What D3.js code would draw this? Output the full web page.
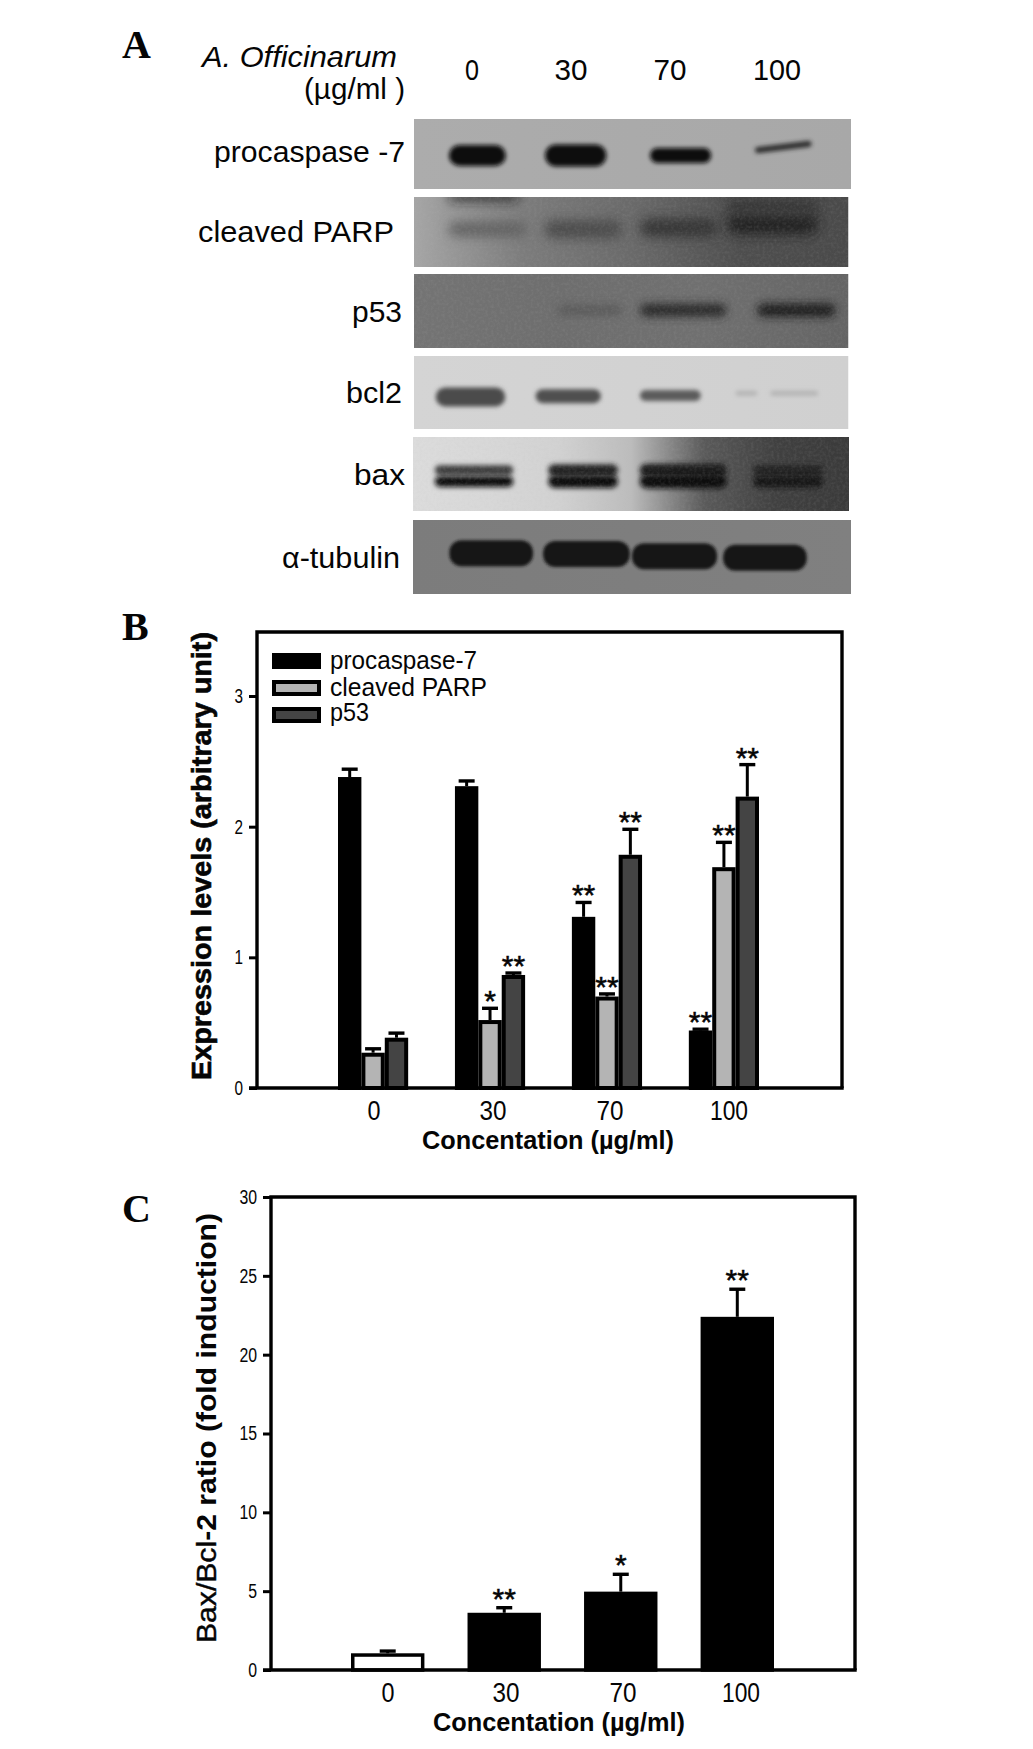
<!DOCTYPE html>
<html><head><meta charset="utf-8">
<script src="https://cdn.jsdelivr.net/npm/d3@7"></script>
<style>
html,body{margin:0;padding:0;background:#fff}
svg{display:block}
text{font-family:"Liberation Sans",Arial,sans-serif;fill:#050505}
</style></head><body><div id="c"></div>
<script>
// ---------- Panel A data (blot rows, lane percent positions, densities)
const doses = ["0","30","70","100"];
const blotNames = ["procaspase -7","cleaved PARP","p53","bcl2","bax","α-tubulin"];
const blotBg = [["#acacac","#a8a8a8"],["#a6a6a6","#7c7c7c","#6a6a6a","#4e4e4e","#4a4a4a"],["#747474","#6e6e6e","#707070","#646464"],["#d4d4d4","#d0d0d0"],["#dcdcdc","#d8d8d8","#d2d2d2","#bcbcbc","#5a5a5a","#404040","#3a3a3a"],["#7c7c7c","#808080"]];
const bandStart = [[8,30,54,78],[8,30,52,72,8,72],[33,52,79],[5,28,52,74,82],[5,31,52,78,5,31,52,78],[8.3,29.7,50,70.8]];
const bandEnd   = [[21,44,68,91],[26,48,70,93,24,93],[48,72,97],[21,43,66,79,93],[23,47,72,94,23,47,72,94],[27.4,49.5,69.4,89.9]];
const bandMid   = [[52,52,52,40],[46,46,44,38,0,14],[49,49,49],[56,55,54,51,51],[45,45,45,45,60,60,60,60],[45,46,49,51]];
const bandTall  = [[21,22,15,6],[14,18,18,22,7,16],[10,13,13],[19,14,11,5,5],[10,12,13,10,11,13,14,12],[26,26,26,26]];
const bandTilt  = [[0,0,0,-7],[0,0,0,0,0,0],[0,0,0],[0,0,0,0,0],[0,0,0,0,0,0,0,0],[0,0,0,0]];
const bandShade = [["#0a0a0a","#0a0a0a","#0f0f0f","#2a2a2a"],["#606060","#4c4c4c","#343434","#222","#1c1c1c","#383838"],["#5a5a5a","#2a2a2a","#1a1a1a"],["#4c4c4c","#505050","#5c5c5c","#b4b4b4","#b4b4b4"],["#3a3a3a","#222","#1e1e1e","#222","#101010","#101010","#0e0e0e","#141414"],["#121212","#141414","#141414","#121212"]];
const bandBlur = [2,6,4,2.2,2.6,1.4];
// ---------- Panel B data
const seriesB = ["procaspase-7","cleaved PARP","p53"];
const fillB = ["#000000","#b4b4b4","#444444"];
const procaspase = [2.38,2.31,1.31,0.44];
const procaspaseErr = [2.44,2.35,1.42,0.45];
const parp = [0.27,0.52,0.70,1.69];
const parpErr = [0.30,0.61,0.72,1.88];
const p53 = [0.385,0.865,1.785,2.23];
const p53Err = [0.42,0.88,1.98,2.475];
const starsB = [["","","**","**"],["","*","**","**"],["","**","**","**"]];
const ticksB = [0,1,2,3];
// ---------- Panel C data
const ratio = [1.06,3.63,4.97,22.4];
const ratioErr = [1.2,3.95,6.07,24.15];
const starsC = ["","**","*","**"];
const ticksC = [0,5,10,15,20,25,30];

const W=1033,H=1749;
const svg=d3.select("#c").append("svg").attr("width",W).attr("height",H).attr("viewBox",`0 0 ${W} ${H}`);
svg.append("rect").attr("width",W).attr("height",H).attr("fill","#fff");
const defs=svg.append("defs");
bandBlur.forEach((b,i)=>defs.append("filter").attr("id","blur"+i).attr("x","-40%").attr("y","-200%").attr("width","180%").attr("height","500%")
  .append("feGaussianBlur").attr("stdDeviation",b));
const nf=defs.append("filter").attr("id","grain").attr("x","0").attr("y","0").attr("width","1").attr("height","1");
nf.append("feTurbulence").attr("type","fractalNoise").attr("baseFrequency","0.35").attr("numOctaves","2").attr("seed","4");
nf.append("feColorMatrix").attr("values","0 0 0 0 0.5  0 0 0 0 0.5  0 0 0 0 0.5  1.1 0 0 0 -0.42");

function label(x,y,str,w,size,opt={}){
  const t=svg.append("text").attr("x",x).attr("y",y).attr("font-size",size).text(str);
  if(w) t.attr("textLength",w).attr("lengthAdjust","spacingAndGlyphs");
  if(opt.weight) t.attr("font-weight",opt.weight);
  if(opt.style) t.attr("font-style",opt.style);
  if(opt.anchor) t.attr("text-anchor",opt.anchor);
  if(opt.family) t.style("font-family",opt.family);
  return t;
}
// Panel letters
const serif='"Liberation Serif",serif';
label(122,58,"A",null,40,{weight:"bold",family:serif});
label(122,640,"B",null,40,{weight:"bold",family:serif});
label(122,1222,"C",null,40,{weight:"bold",family:serif});

// ---------- Panel A
label(202,67,"A. Officinarum",195,30,{style:"italic"});
label(304,99,"(µg/ml )",101,30);
const doseX=[472,571,670,777], doseW=[14,33,33,48];
doses.forEach((d,i)=>label(doseX[i],80,d,doseW[i],30,{anchor:"middle"}));
const nameX=[214,198,352,346,354,282], nameW=[191,196,50,56,51,118], nameY=[162,242,322,403,485,568];
blotNames.forEach((n,i)=>label(nameX[i],nameY[i],n,nameW[i],30));

const rowTop=[119,197,274,356,437,520], rowBot=[189,267,348,429,511,594], rowL=[414,414,414,414,413,413], rowR=[851,848.5,848.5,848.5,849,851];
const lane=d3.scaleLinear().domain([0,100]);
blotNames.forEach((n,i)=>{
  const g=svg.append("g");
  const gid="bg"+i;
  const lg=defs.append("linearGradient").attr("id",gid);
  blotBg[i].forEach((c,k)=>lg.append("stop").attr("offset",k/(blotBg[i].length-1)).attr("stop-color",c));
  defs.append("clipPath").attr("id","clip"+i).append("rect").attr("x",rowL[i]).attr("y",rowTop[i]).attr("width",rowR[i]-rowL[i]).attr("height",rowBot[i]-rowTop[i]);
  g.attr("clip-path",`url(#clip${i})`);
  const y=d3.scaleLinear().domain([0,100]).range([rowTop[i],rowBot[i]]);
  lane.range([rowL[i],rowR[i]]);
  g.append("rect").attr("x",rowL[i]).attr("y",rowTop[i]).attr("width",rowR[i]-rowL[i]).attr("height",rowBot[i]-rowTop[i]).attr("fill",`url(#${gid})`);
  bandStart[i].forEach((s,k)=>{
    const x0=lane(s), x1=lane(bandEnd[i][k]), h=bandTall[i][k], yy=y(bandMid[i][k]);
    g.append("rect").attr("x",x0).attr("y",yy-h/2).attr("width",x1-x0).attr("height",h).attr("rx",Math.min(h/2,12))
      .attr("transform",`rotate(${bandTilt[i][k]},${(x0+x1)/2},${yy})`)
      .attr("fill",bandShade[i][k]).attr("filter",`url(#blur${i})`);
  });
  if(i===1||i===2||i===4){
    g.append("rect").attr("x",rowL[i]).attr("y",rowTop[i]).attr("width",rowR[i]-rowL[i]).attr("height",rowBot[i]-rowTop[i]).attr("filter","url(#grain)").attr("opacity",0.22);
  }
});

// ---------- shared bar helpers
const black="#000";
function frame(l,t,r,b){
  svg.append("path").attr("d",`M${l},${b}V${t}H${r}V${b}`).attr("fill","none").attr("stroke",black).attr("stroke-width",3.4);
}
function yAxis(scale,x,ticks,labelW,size){
  const g=svg.append("g").attr("transform",`translate(${x},0)`)
    .call(d3.axisLeft(scale).tickValues(ticks).tickFormat(d3.format("d")).tickSize(8).tickPadding(6).tickSizeOuter(0));
  g.select(".domain").remove();
  g.selectAll("line").attr("stroke",black).attr("stroke-width",3);
  g.selectAll("text").attr("font-size",size).attr("fill","#050505").attr("font-family",'"Liberation Sans",sans-serif')
    .each(function(d){d3.select(this).attr("textLength",String(d).length*labelW).attr("lengthAdjust","spacingAndGlyphs");});
}
function errs(sel,xf,yf,base,cap){
  const g=sel.append("g");
  g.append("line").attr("x1",xf).attr("x2",xf).attr("y1",yf).attr("y2",base).attr("stroke",black).attr("stroke-width",3);
  g.append("line").attr("x1",d=>xf(d)-cap/2).attr("x2",d=>xf(d)+cap/2).attr("y1",yf).attr("y2",yf).attr("stroke",black).attr("stroke-width",3.4);
}

// ---------- Panel B
const bL=257,bR=842,bT=632,bB=1088;
const yB=d3.scaleLinear().domain([0,3.49]).range([bB,bT]);
const xB=d3.scaleBand().domain(doses).range([338,759]).paddingInner(0.4).paddingOuter(0);
const subB=d3.scaleBand().domain(seriesB).range([0,xB.bandwidth()]);
frame(bL,bT,bR,bB);
const valuesB=[procaspase,parp,p53], errsB=[procaspaseErr,parpErr,p53Err];
seriesB.forEach((s,si)=>{
  const rows=doses.map((d,i)=>({d,v:valuesB[si][i],e:errsB[si][i],st:starsB[si][i]}));
  const cx=r=>xB(r.d)+subB(s)+subB.bandwidth()/2;
  const sel=svg.append("g");
  errs(sel.selectAll("g").data(rows).enter(),cx,r=>yB(r.e),r=>yB(r.v),16);
  svg.append("g").selectAll("rect").data(rows).enter().append("rect")
    .attr("x",r=>xB(r.d)+subB(s)+2).attr("width",subB.bandwidth()-4)
    .attr("y",r=>yB(r.v)+2).attr("height",r=>bB-yB(r.v)-2)
    .attr("fill",fillB[si]).attr("stroke",black).attr("stroke-width",4);
  svg.append("g").selectAll("text").data(rows.filter(r=>r.st)).enter().append("text")
    .attr("x",cx).attr("y",r=>yB(r.e)+3).attr("text-anchor","middle").attr("font-size",30)
    .attr("stroke","#050505").attr("stroke-width",0.5).text(r=>r.st);
});
svg.append("line").attr("x1",bL-8).attr("x2",bR+1.7).attr("y1",bB).attr("y2",bB).attr("stroke",black).attr("stroke-width",3.6);
yAxis(yB,bL,ticksB,8.5,20);
const labBx=[374,493,610,729], labBw=[13,27,27,38];
doses.forEach((d,i)=>label(labBx[i],1120,d,labBw[i],27,{anchor:"middle"}));
label(422,1149,"Concentation (µg/ml)",252,25,{weight:"bold"});
svg.append("text").attr("transform","translate(211,856) rotate(-90)").attr("text-anchor","middle")
  .attr("font-size",28).attr("font-weight","bold").attr("textLength",448).attr("lengthAdjust","spacingAndGlyphs")
  .attr("stroke","#050505").attr("stroke-width",0.6)
  .text("Expression levels (arbitrary unit)");
// legend
const legY=[653,680,707], legBase=[669,696,721], legW=[147,157,39];
seriesB.forEach((s,i)=>{
  svg.append("rect").attr("x",274).attr("y",legY[i]+2).attr("width",45).attr("height",12).attr("fill",fillB[i]).attr("stroke",black).attr("stroke-width",4);
  label(330,legBase[i],s,legW[i],26);
});

// ---------- Panel C
const cL=271,cR=855,cT=1197,cB=1670;
const yC=d3.scaleLinear().domain([0,30]).range([cB,cT]);
const xC=d3.scaleBand().domain(doses).range([351,774]).paddingInner(0.37).paddingOuter(0);
frame(cL,cT,cR,cB);
const rowsC=doses.map((d,i)=>({d,v:ratio[i],e:ratioErr[i],st:starsC[i],i}));
const cxC=r=>xC(r.d)+xC.bandwidth()/2;
errs(svg.append("g").selectAll("g").data(rowsC).enter(),cxC,r=>yC(r.e),r=>yC(r.v),16);
svg.append("g").selectAll("rect").data(rowsC).enter().append("rect")
  .attr("x",r=>xC(r.d)+1.75).attr("width",xC.bandwidth()-3.5)
  .attr("y",r=>yC(r.v)+1.75).attr("height",r=>cB-yC(r.v)-1.75)
  .attr("fill",r=>r.i===0?"#fff":"#000").attr("stroke",black).attr("stroke-width",3.5);
svg.append("g").selectAll("text").data(rowsC.filter(r=>r.st)).enter().append("text")
  .attr("x",cxC).attr("y",r=>yC(r.e)+1).attr("text-anchor","middle").attr("font-size",30)
  .attr("stroke","#050505").attr("stroke-width",0.5).text(r=>r.st);
svg.append("line").attr("x1",cL-8).attr("x2",cR+1.7).attr("y1",cB).attr("y2",cB).attr("stroke",black).attr("stroke-width",3.6);
yAxis(yC,cL,ticksC,8.8,20);
const labCx=[388,506,623,741], labCw=[13,27,27,38];
doses.forEach((d,i)=>label(labCx[i],1702,d,labCw[i],27,{anchor:"middle"}));
label(433,1731,"Concentation (µg/ml)",252,25,{weight:"bold"});
const yt=svg.append("text").attr("transform","translate(216,1428) rotate(-90)").attr("text-anchor","middle")
  .attr("font-size",28).attr("textLength",430).attr("lengthAdjust","spacingAndGlyphs");
yt.append("tspan").attr("stroke","#050505").attr("stroke-width",0.4).text("Bax/Bcl");
yt.append("tspan").attr("font-weight","bold").text("-2 ratio (fold induction)");
</script></body></html>
